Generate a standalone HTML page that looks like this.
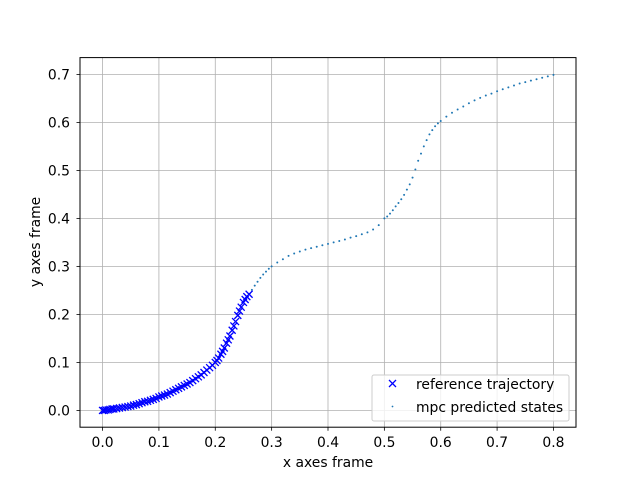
<!DOCTYPE html>
<html><head><meta charset="utf-8"><style>
body{margin:0;background:#fff}
svg{display:block;font-family:"DejaVu Sans","Liberation Sans",sans-serif}
</style></head><body>
<svg id="chart" width="640" height="480">
<rect x="0" y="0" width="640" height="480" fill="#fff"/>
<g id="grid"></g>
<g id="mpc"></g>
<g id="ref"></g>
<rect x="80" y="57.6" width="496" height="369.6" fill="none" stroke="#000" stroke-width="1"/>
<g id="ticks" font-size="13.9" fill="#000"></g>
<text x="328" y="467" font-size="13.9" text-anchor="middle">x axes frame</text>
<text x="40" y="242" font-size="13.9" text-anchor="middle" transform="rotate(-90 40 242)">y axes frame</text>
<g>
<rect x="372" y="375" width="197" height="46" rx="2" fill="#fff" fill-opacity="0.8" stroke="#ccc"/>
<g>
<path d="M389 380l7 7M396 380l-7 7" stroke="#0000ff" stroke-width="1.3"/>
<text x="416" y="389" font-size="13.9">reference trajectory</text></g>
<g>
<circle cx="392.5" cy="406.5" r="0.9" fill="#1f77b4"/>
<text x="416" y="412" font-size="13.9">mpc predicted states</text></g>
</g>
</svg>
<script>
const xTicks=[0,0.1,0.2,0.3,0.4,0.5,0.6,0.7,0.8];
const yTicks=[0,0.1,0.2,0.3,0.4,0.5,0.6,0.7];
const refX=[0,0.003,0.006,0.01,0.013,0.017,0.02,0.025,0.03,0.035,0.04,0.045,0.05,0.055,0.06,0.065,0.07,0.075,0.08,0.085,0.09,0.095,0.1,0.105,0.11,0.115,0.12,0.125,0.13,0.135,0.14,0.145,0.15,0.155,0.16,0.165,0.17,0.175,0.18,0.185,0.19,0.195,0.2,0.203,0.206,0.21,0.213,0.216,0.22,0.223,0.226,0.23,0.233,0.236,0.24,0.243,0.246,0.25,0.253,0.256,0.26];
const refY=[0,0,0.001,0.001,0.002,0.003,0.003,0.004,0.005,0.006,0.007,0.008,0.009,0.011,0.012,0.014,0.016,0.018,0.019,0.021,0.023,0.025,0.028,0.03,0.032,0.034,0.037,0.04,0.043,0.046,0.049,0.052,0.055,0.058,0.062,0.066,0.07,0.074,0.079,0.084,0.089,0.094,0.1,0.104,0.109,0.117,0.123,0.13,0.14,0.147,0.155,0.167,0.176,0.185,0.198,0.207,0.215,0.225,0.231,0.237,0.242];
const mpcX=[0,0.01,0.02,0.03,0.04,0.05,0.06,0.07,0.08,0.09,0.1,0.11,0.12,0.13,0.14,0.15,0.16,0.17,0.18,0.19,0.2,0.21,0.22,0.23,0.24,0.25,0.26,0.265,0.27,0.275,0.28,0.285,0.29,0.295,0.3,0.31,0.32,0.33,0.34,0.35,0.36,0.37,0.38,0.39,0.4,0.41,0.42,0.43,0.44,0.45,0.46,0.47,0.48,0.49,0.5,0.505,0.51,0.515,0.52,0.525,0.53,0.535,0.54,0.545,0.55,0.555,0.56,0.565,0.57,0.575,0.58,0.585,0.59,0.595,0.6,0.61,0.62,0.63,0.64,0.65,0.66,0.67,0.68,0.69,0.7,0.71,0.72,0.73,0.74,0.75,0.76,0.77,0.78,0.79,0.8];
const mpcY=[0,0.001,0.003,0.005,0.007,0.009,0.012,0.016,0.019,0.023,0.028,0.032,0.037,0.043,0.049,0.055,0.062,0.07,0.079,0.089,0.1,0.117,0.14,0.167,0.198,0.225,0.242,0.251,0.26,0.268,0.276,0.283,0.289,0.295,0.3,0.308,0.315,0.322,0.327,0.331,0.335,0.338,0.341,0.344,0.347,0.35,0.353,0.356,0.36,0.363,0.367,0.371,0.377,0.386,0.4,0.404,0.41,0.417,0.425,0.432,0.44,0.449,0.46,0.471,0.485,0.502,0.52,0.535,0.55,0.563,0.575,0.584,0.592,0.598,0.603,0.612,0.62,0.627,0.633,0.64,0.646,0.651,0.656,0.66,0.665,0.669,0.673,0.677,0.681,0.684,0.687,0.69,0.693,0.696,0.699];
const NS='http://www.w3.org/2000/svg';
const X0=80,X1=576,Y0=427.2,Y1=57.6,xmin=-0.04,xmax=0.84,ymin=-0.035,ymax=0.735;
function sx(v){return X0+(v-xmin)/(xmax-xmin)*(X1-X0);}
function sy(v){return Y0-(v-ymin)/(ymax-ymin)*(Y0-Y1);}
function mk(tag,attrs,parent){const e=document.createElementNS(NS,tag);for(const k in attrs)e.setAttribute(k,attrs[k]);parent.appendChild(e);return e;}
const grid=document.getElementById('grid'),ticks=document.getElementById('ticks');
xTicks.forEach(t=>{const x=sx(t);
const g=mk('line',{x1:x,x2:x,y1:Y1,y2:Y0,stroke:'#b0b0b0','stroke-width':0.8},grid);


mk('line',{x1:x,x2:x,y1:Y0,y2:Y0+3.5,stroke:'#000','stroke-width':0.8},ticks);
const l=mk('text',{x:x,y:447,'text-anchor':'middle'},ticks);l.textContent=t.toFixed(1);

});
yTicks.forEach(t=>{const y=sy(t);
const g=mk('line',{x1:X0,x2:X1,y1:y,y2:y,stroke:'#b0b0b0','stroke-width':0.8},grid);


mk('line',{x1:X0-3.5,x2:X0,y1:y,y2:y,stroke:'#000','stroke-width':0.8},ticks);
const l=mk('text',{x:X0-10,y:y+5,'text-anchor':'end'},ticks);l.textContent=t.toFixed(1);

});
const mpc=document.getElementById('mpc');
mpcX.forEach((v,i)=>{const c=mk('circle',{cx:sx(v),cy:sy(mpcY[i]),r:1,fill:'#1f77b4'},mpc);

});
const ref=document.getElementById('ref');
refX.forEach((v,i)=>{const x=sx(v),y=sy(refY[i]);
const p=mk('path',{d:`M${x-3.5} ${y-3.5}l7 7M${x+3.5} ${y-3.5}l-7 7`,stroke:'#0000ff','stroke-width':1.3,fill:'none'},ref);

});
</script>
</body></html>
